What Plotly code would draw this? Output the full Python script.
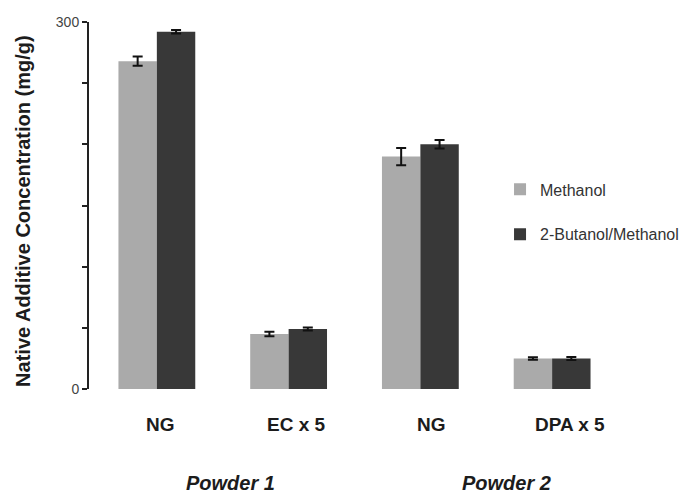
import plotly.graph_objects as go

# Extracted native additive concentrations (mg/g); EC and DPA shown scaled x5
categories = ["NG", "EC x 5", "NG", "DPA x 5"]
groups = ["Powder 1", "Powder 2"]
methanol = [268, 45, 190, 25]
methanol_err = [3.7, 1.8, 7.0, 1.0]
butanol_methanol = [292, 49, 200, 25]
butanol_methanol_err = [1.5, 1.2, 3.5, 1.2]
series_names = ["Methanol", "2-Butanol/Methanol"]
y_ticks = [0, 50, 100, 150, 200, 250, 300]
y_tick_text = ["0", "", "", "", "", "", "300"]

x = list(range(len(categories)))
FONT = "Liberation Sans, Arial, Helvetica, sans-serif"
INK = "#1c1c1c"

fig = go.Figure()
fig.add_trace(go.Bar(
    x=x, y=methanol, name=series_names[0], marker_color="#aaaaaa",
    marker_line_width=0, legendgroup="a",
    error_y=dict(type="data", array=methanol_err, color="#111", thickness=2, width=5),
))
fig.add_trace(go.Bar(
    x=x, y=butanol_methanol, name=series_names[1], marker_color="#383838",
    marker_line_width=0, legendgroup="b",
    error_y=dict(type="data", array=butanol_methanol_err, color="#111", thickness=2, width=5),
))

annotations = []
# category labels under each bar pair
label_shift = [4, 8, 11, 18]
for i, lab in enumerate(categories):
    annotations.append(dict(
        x=i, y=-0.098, xref="x", yref="paper", text=f"<b>{lab}</b>", showarrow=False,
        xanchor="center", yanchor="middle", xshift=label_shift[i],
        font=dict(family=FONT, size=19, color=INK),
    ))
# sample group labels
for gx, g in zip([0.562, 2.657], groups):
    annotations.append(dict(
        x=gx, y=-0.256, xref="x", yref="paper", text=f"<b><i>{g}</i></b>",
        showarrow=False, xanchor="center", yanchor="middle",
        font=dict(family=FONT, size=20, color=INK),
    ))
# y-axis title
annotations.append(dict(
    x=-0.125, y=0.485, xref="paper", yref="paper",
    text="<b>Native Additive Concentration (mg/g)</b>", textangle=-90,
    showarrow=False, xanchor="center", yanchor="middle",
    font=dict(family=FONT, size=20, color=INK),
))

fig.update_layout(
    width=693, height=494,
    margin=dict(l=89, r=75, t=22, b=105, autoexpand=False),
    paper_bgcolor="white", plot_bgcolor="white",
    barmode="group", bargap=0.417, bargroupgap=0,
    showlegend=True,
    legend=dict(
        x=0.777, y=0.59, xanchor="left", yanchor="top",
        bgcolor="rgba(0,0,0,0)", tracegroupgap=21, traceorder="grouped",
        font=dict(family=FONT, size=16, color="#333"),
    ),
    xaxis=dict(range=[-0.515, 3.5], showticklabels=False, showline=False,
               showgrid=False, zeroline=False, ticks=""),
    yaxis=dict(range=[0, 300], tickvals=y_ticks, ticktext=y_tick_text,
               showline=True, linecolor="#222", linewidth=2,
               ticks="outside", ticklen=5, tickwidth=2, tickcolor="#222",
               showgrid=False, zeroline=False,
               tickfont=dict(family=FONT, size=14, color="#444")),
    annotations=annotations,
)

fig.write_html("out.html")
